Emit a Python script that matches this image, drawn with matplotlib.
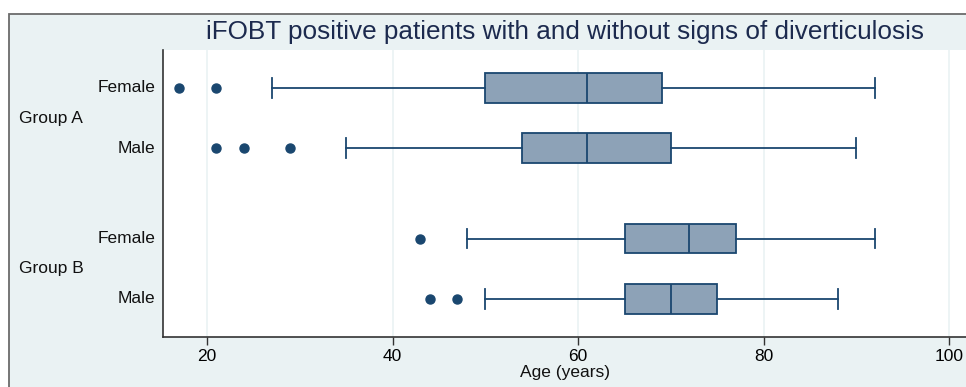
import matplotlib
matplotlib.use("Agg")
import matplotlib.pyplot as plt
from matplotlib.patches import Rectangle

plt.rcParams['font.family'] = ['Liberation Sans', 'DejaVu Sans']

title = "iFOBT positive patients with and without signs of diverticulosis"
groups = ["Group A", "Group B"]
sexes = ["Female", "Male"]
# per box: whislo, q1, med, q3, whishi, outliers  (order: A-F, A-M, B-F, B-M)
whislo = [27, 35, 48, 50]
q1 = [50, 54, 65, 65]
med = [61, 61, 72, 70]
q3 = [69, 70, 77, 75]
whishi = [92, 90, 92, 88]
fliers = [[17, 21], [21, 24, 29], [43], [44, 47]]
xticks = [20, 40, 60, 80, 100]
xlabel = "Age (years)"

positions = [0, 1, 2.5, 3.5]
navy = "#1a476f"
fillc = "#8da2b7"
bg = "#eaf2f3"

W, H = 966, 387
fig = plt.figure(figsize=(W / 100, H / 100), dpi=100)
fig.patch.set_facecolor("white")
fig.patches.append(Rectangle((9 / W, -0.05), 1.1, 1 - 14 / H + 0.05, transform=fig.transFigure,
                             facecolor=bg, edgecolor="#6b6b6b", linewidth=1.3, zorder=-5))

ax = fig.add_axes([163.3 / W, 1 - 336.7 / H, 1 - 163.3 / W, (336.7 - 50) / H])
ax.set_facecolor("white")

stats = []
for i in range(4):
    stats.append(dict(whislo=whislo[i], q1=q1[i], med=med[i], q3=q3[i], whishi=whishi[i], fliers=fliers[i]))

ax.bxp(stats, positions=positions, vert=False, widths=0.49, capwidths=0.33, patch_artist=True,
       boxprops=dict(facecolor=fillc, edgecolor=navy, linewidth=1.3),
       medianprops=dict(color=navy, linewidth=1.3),
       whiskerprops=dict(color=navy, linewidth=1.3),
       capprops=dict(color=navy, linewidth=1.3),
       flierprops=dict(marker="o", markerfacecolor=navy, markeredgecolor=navy, markersize=6.5))

ax.set_xlim(15.3, 101.8)
ax.set_ylim(4.13, -0.63)
ax.set_xticks(xticks)
ax.set_xticklabels([str(t) for t in xticks], fontsize=12.5)
ax.xaxis.grid(True, color=bg, linewidth=1.2)
ax.set_axisbelow(True)
ax.set_yticks([])
ax.tick_params(axis="x", length=6, width=1, color="#333333", pad=3)
for s in ["top", "right"]:
    ax.spines[s].set_visible(False)
ax.spines["left"].set_color("#333333")
ax.spines["bottom"].set_color("#333333")
ax.spines["left"].set_linewidth(1.2)
ax.spines["bottom"].set_linewidth(1.2)

# category labels
trans = ax.get_yaxis_transform()
for i, p in enumerate(positions):
    ax.text(-8 / (W - 163.3), p, sexes[i % 2], transform=trans, ha="right", va="center", fontsize=12.5, color="#111111")
for g, (a, b) in zip(groups, [(positions[0], positions[1]), (positions[2], positions[3])]):
    ax.text(-144 / (W - 163.3), (a + b) / 2, g, transform=trans, ha="left", va="center", fontsize=12.5, color="#111111")

fig.text(565 / W, 1 - 32 / H, title, ha="center", va="center", fontsize=18.8, color="#1c2a4e")
fig.text(565 / W, 1 - 373 / H, xlabel, ha="center", va="center", fontsize=12.5, color="#111111")

fig.savefig("out.png", dpi=100)
